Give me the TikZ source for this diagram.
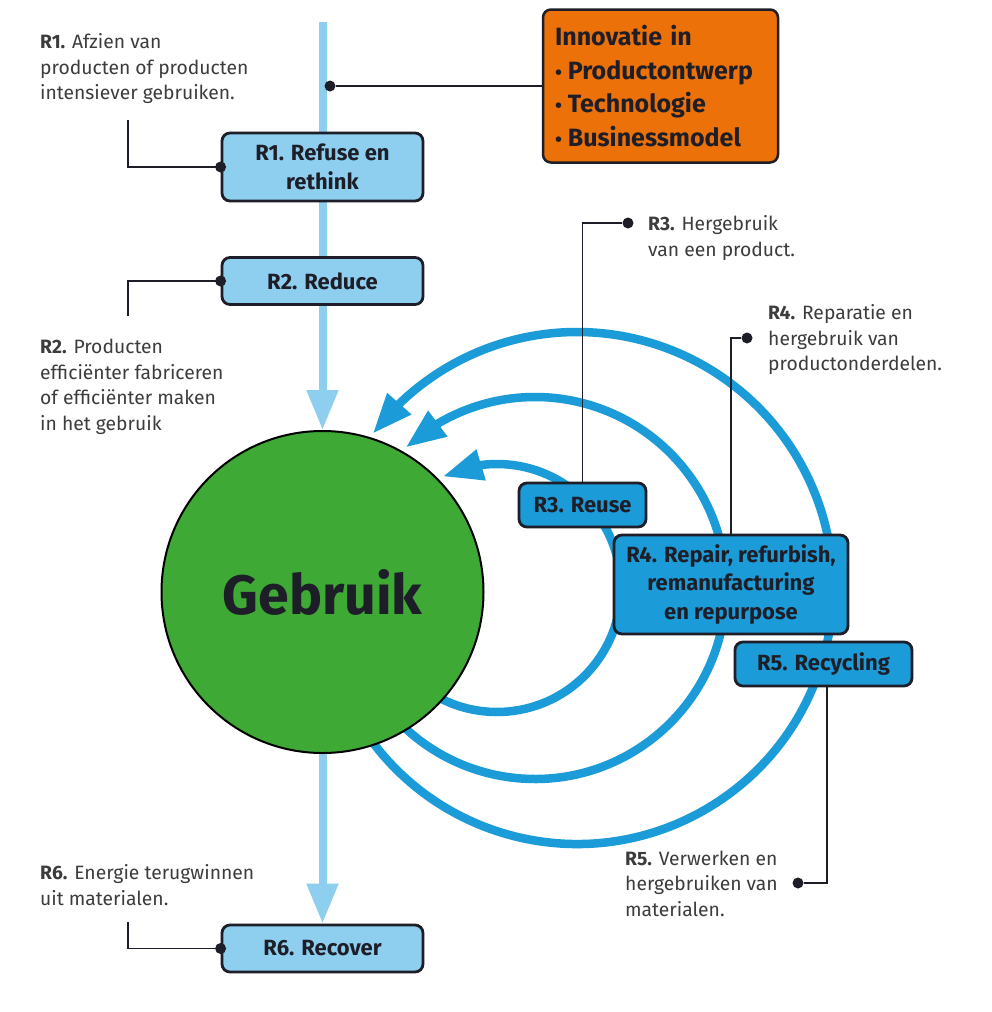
\documentclass[tikz,border=0pt]{standalone}
\usepackage{fontspec}
\setmainfont{Fira Sans}
\setsansfont{Fira Sans}
\usetikzlibrary{arrows.meta,bending,calc}
\definecolor{lblue}{HTML}{8ECFF0}
\definecolor{bblue}{HTML}{1B9BD7}
\definecolor{orng}{HTML}{EC7108}
\definecolor{grn}{HTML}{3EA935}
\definecolor{ink}{HTML}{1E1E28}
\definecolor{txt}{HTML}{3C3C3C}
\pgfdeclarelayer{bg}
\pgfsetlayers{bg,main}
\newcommand{\blt}{{\fontsize{20}{20}\selectfont•}\hspace{6pt}}
\begin{document}
\begin{tikzpicture}[x=1pt,y=-1pt,
  rbox/.style={draw=ink, line width=2.8pt, rounded corners=8pt, align=center, font=\fontsize{22}{28.5}\selectfont\bfseries, text=ink, inner sep=0pt},
  lbox/.style={rbox, fill=lblue},
  bbox/.style={rbox, fill=bblue},
  desc/.style={anchor=base west, align=left, inner sep=0pt, font=\fontsize{19.3}{25.5}\selectfont, text=txt},
  leader/.style={draw=ink, line width=1.4pt},
  dot/.style={fill=ink, circle, inner sep=0pt, minimum size=11pt},
  flow/.style={draw=lblue, line width=8pt, -{Triangle[length=40pt,width=30pt]}},
  ret/.style={draw=bblue, line width=8.5pt, -{Triangle[length=40pt,width=30pt,flex]}},
]
\useasboundingbox (0,0) rectangle (992,1012);
\begin{pgfonlayer}{bg}
\fill[white] (0,0) rectangle (992,1012);
\end{pgfonlayer}

% central circle
\node[circle, draw=black, line width=2pt, fill=grn, minimum size=322pt, inner sep=0pt,
      font=\fontsize{55.5}{55.5}\selectfont\bfseries, text=ink] (gebruik) at (322.5,592) {Gebruik};

% boxes
\node[lbox, minimum width=201pt, minimum height=68pt] (r1) at (322.5,167) {R1. Refuse en\\rethink};
\node[lbox, minimum width=201pt, minimum height=47pt] (r2) at (322.5,281) {R2. Reduce};
\node[lbox, minimum width=201pt, minimum height=47pt] (r6) at (322.5,948.5) {R6. Recover};
\node[bbox, minimum width=127pt, minimum height=44pt] (r3) at (582.5,505) {R3. Reuse};
\node[bbox, minimum width=234pt, minimum height=99pt] (r4) at (731,584.5) {R4. Repair, refurbish,\\remanufacturing\\en repurpose};
\node[bbox, minimum width=177pt, minimum height=44pt] (r5) at (823.5,664) {R5. Recycling};

\node[draw=ink, line width=2.5pt, rounded corners=8pt, fill=orng, minimum width=235pt, minimum height=153pt,
      text width=211pt, align=left, inner xsep=12pt, inner ysep=0pt,
      font=\fontsize{25}{33.5}\selectfont\bfseries, text=ink] (innov) at (660.5,86)
      {Innovatie in\\\blt Productontwerp\\\blt Technologie\\\blt Businessmodel};

% flows
\coordinate (top) at (322.5,22);
\begin{pgfonlayer}{bg}
\draw[flow] (top) -- (gebruik.north);
\draw[flow] (gebruik.south) -- (r6.north);
\coordinate (c3) at (497,588);
\coordinate (c4) at (535,588);
\coordinate (c5) at (577,588);
\draw[ret] ($(c3)+(130:124)$) arc[start angle=130, end angle=-115.9, radius=124];
\draw[ret] ($(c4)+(140:191)$) arc[start angle=140, end angle=-132.6, radius=191];
\draw[ret] ($(c5)+(150:256)$) arc[start angle=150, end angle=-142.9, radius=256];
\end{pgfonlayer}

% descriptions (anchor = baseline of the last line)
\node[desc] (t1) at (40,99.5) {\textbf{R1.} Afzien van\\producten of producten\\intensiever gebruiken.};
\node[desc] (t2) at (40,430) {\textbf{R2.} Producten\\efficiënter fabriceren\\of efficiënter maken\\in het gebruik};
\node[desc] (t3) at (648,256) {\textbf{R3.} Hergebruik\\van een product.};
\node[desc] (t4) at (768,370.5) {\textbf{R4.} Reparatie en\\hergebruik van\\productonderdelen.};
\node[desc] (t5) at (625,916) {\textbf{R5.} Verwerken en\\hergebruiken van\\materialen.};
\node[desc] (t6) at (40,905) {\textbf{R6.} Energie terugwinnen\\uit materialen.};

% leaders
\coordinate (l1) at (128,120);
\coordinate (l2) at (128,316);
\coordinate (l6) at (128,922);
\draw[leader] (l1) |- (r1.west);
\draw[leader] (l2) |- (r2.west);
\draw[leader] (l6) |- (r6.west);
\node[dot] (p1) at (r1.west) {};
\node[dot] (p2) at (r2.west) {};
\node[dot] (p6) at (r6.west) {};

\node[dot] (d0) at (330,86) {};
\draw[leader] (d0) -- (innov.west|-d0);

\node[dot] (d3) at (628,223) {};
\draw[leader] (r3.north) |- (d3);
\node[dot] (d4) at (747,338) {};
\draw[leader] (r4.north) |- (d4);
\node[dot] (d5) at (798,883) {};
\coordinate (r5b) at ($(r5.south)+(3.5,0)$);
\draw[leader] (r5b) |- (d5);
\end{tikzpicture}
\end{document}
